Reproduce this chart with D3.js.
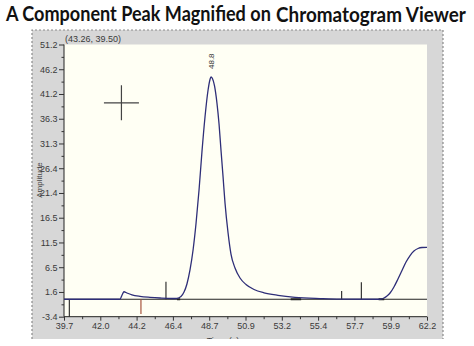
<!DOCTYPE html>
<html>
<head>
<meta charset="utf-8">
<script src="https://cdn.jsdelivr.net/npm/d3@7"></script>
<style>
  html, body { margin: 0; padding: 0; background: #ffffff; }
  svg { display: block; }
</style>
</head>
<body>
<svg id="chart" width="474" height="346"></svg>
<script>
// Chromatogram trace: retention time (s) and detector amplitude
const traceTime = [39.70, 43.17, 43.30, 43.42, 43.60, 43.91, 44.41, 45.03, 45.65, 46.39,
  46.70, 46.95, 47.14, 47.32, 47.51, 47.70, 47.88, 48.07, 48.25, 48.44, 48.63, 48.75,
  48.81, 48.90, 49.03, 49.18, 49.31, 49.43, 49.56, 49.68, 49.87, 50.05, 50.30, 50.61,
  50.98, 51.48, 52.10, 52.96, 54.02, 55.57, 56.81, 59.29, 59.53, 59.72, 59.91, 60.15,
  60.40, 60.65, 60.90, 61.15, 61.39, 61.64, 61.89, 62.20];
const traceAmplitude = [0.10, 0.10, 0.95, 1.60, 1.35, 0.99, 0.69, 0.49, 0.35, 0.25,
  0.29, 0.65, 1.55, 3.16, 5.97, 9.98, 15.19, 22.01, 29.64, 36.66, 42.07, 44.18,
  44.68, 44.38, 42.88, 39.47, 35.25, 30.04, 24.62, 19.41, 13.39, 9.17, 6.37, 4.36,
  3.06, 2.05, 1.39, 0.89, 0.49, 0.23, 0.11, 0.10, 0.35, 0.75, 1.35, 2.56,
  4.16, 5.86, 7.57, 8.87, 9.77, 10.28, 10.48, 10.52];

const baselineLevel = 0.1;

// Event marks on the baseline: time, top and bottom amplitude, colour
const markTime   = [40.03, 44.47, 46.02, 56.91, 58.13];
const markTop    = [0.1, 0.1, 3.62, 1.75, 3.50];
const markBottom = [-3.4, -2.86, 0.1, 0.1, 0.1];
const markColor  = ["#222222", "#a0462d", "#222222", "#222222", "#222222"];

// Integration start/end ticks drawn heavier on the baseline
const integStart = [46.70, 53.75, 59.20];
const integEnd   = [46.90, 54.40, 59.55];

// Peak annotation and cursor readout
const peakLabels = ["48.8"];
const peakLabelTime = [48.81];
const peakLabelAmplitude = [44.68];
const cursorTime = 43.26;
const cursorAmplitude = 39.50;

// Axis tick labels
const xTickLabels = ["39.7", "42.0", "44.2", "46.4", "48.7", "50.9", "53.2", "55.4", "57.7", "59.9", "62.2"];
const yTickLabels = ["-3.4", "1.6", "6.5", "11.5", "16.5", "21.4", "26.4", "31.3", "36.3", "41.2", "46.2", "51.2"];
const xDomain = [39.7, 62.2];
const yDomain = [-3.4, 51.2];

const titleParts = ["A Component Peak Magnified on", "Chromatogram Viewer"];

const svg = d3.select("#chart");

// Title: two runs, each squeezed horizontally to its slot
function titleRun(text, left, baseline, size, width) {
  const t = svg.append("text")
    .attr("font-family", "Lato, 'Open Sans', sans-serif")
    .attr("font-weight", 700).attr("font-size", size)
    .attr("fill", "#111").text(text);
  const natural = t.node().getComputedTextLength();
  t.attr("transform", `translate(${left},${baseline}) scale(${width / natural},1)`);
}
titleRun(titleParts[0], 6, 21, 21, 265);
titleRun(titleParts[1], 276, 22, 20, 190);

// Viewer panel
const panel = { x0: 32, y0: 30, x1: 443, y1: 339 };
svg.append("clipPath").attr("id", "panelClip")
  .append("rect").attr("x", panel.x0).attr("y", panel.y0)
  .attr("width", panel.x1 - panel.x0).attr("height", panel.y1 - panel.y0);

svg.append("rect")
  .attr("x", panel.x0).attr("y", panel.y0)
  .attr("width", panel.x1 - panel.x0).attr("height", panel.y1 - panel.y0)
  .attr("fill", "#d7d7d7");
svg.append("path")
  .attr("d", `M${panel.x0},${panel.y1}V${panel.y0}H${panel.x1}V${panel.y1}`)
  .attr("fill", "none").attr("stroke", "#8a8a8a").attr("stroke-width", 1.2)
  .attr("stroke-dasharray", "2,2");

// Plot area
const plot = { left: 64, top: 44.5, right: 427, bottom: 316.7 };
const x = d3.scaleLinear().domain(xDomain).range([plot.left, plot.right]);
const y = d3.scaleLinear().domain(yDomain).range([plot.bottom, plot.top]);

svg.append("rect")
  .attr("x", plot.left).attr("y", plot.top)
  .attr("width", plot.right - plot.left).attr("height", plot.bottom - plot.top)
  .attr("fill", "#fffff4");

const g = svg.append("g");

// Axes
const xMajor = xTickLabels.map((_, i) => xDomain[0] + i * (xDomain[1] - xDomain[0]) / (xTickLabels.length - 1));
const yMajor = yTickLabels.map((_, i) => yDomain[0] + i * (yDomain[1] - yDomain[0]) / (yTickLabels.length - 1));
const xMinor = xMajor.slice(1).map((v, i) => (v + xMajor[i]) / 2);
const yMinor = yMajor.slice(1).map((v, i) => (v + yMajor[i]) / 2);

const xAxis = g.append("g").attr("transform", `translate(0,${plot.bottom})`)
  .call(d3.axisBottom(x).tickValues(xMajor).tickSize(4).tickPadding(2)
    .tickFormat((d, i) => xTickLabels[i]));
g.append("g").attr("transform", `translate(0,${plot.bottom})`)
  .call(d3.axisBottom(x).tickValues(xMinor).tickSize(2.5).tickFormat(""))
  .call(s => s.select(".domain").remove());

const yAxis = g.append("g").attr("transform", `translate(${plot.left},0)`)
  .call(d3.axisLeft(y).tickValues(yMajor).tickSize(5).tickPadding(1.5)
    .tickFormat((d, i) => yTickLabels[i]));
g.append("g").attr("transform", `translate(${plot.left},0)`)
  .call(d3.axisLeft(y).tickValues(yMinor).tickSize(2.5).tickFormat(""))
  .call(s => s.select(".domain").remove());

g.selectAll(".domain").attr("stroke", "#222").attr("stroke-width", 1);
g.selectAll(".tick line").attr("stroke", "#333");
g.selectAll(".tick text")
  .attr("font-family", "'Liberation Sans', Arial, sans-serif")
  .attr("font-size", 9).attr("fill", "#3a3a3a");
xAxis.selectAll(".domain").attr("d", `M${plot.left},0H${plot.right}`);
yAxis.selectAll(".domain").attr("d", `M0,${plot.bottom}V${plot.top}`);

// Axis titles
svg.append("text")
  .attr("transform", `translate(41.5,180) rotate(-90)`)
  .attr("text-anchor", "middle")
  .attr("font-family", "'Liberation Sans', Arial, sans-serif")
  .attr("font-size", 8).attr("fill", "#444")
  .text("Amplitude");
svg.append("text")
  .attr("x", 223).attr("y", 343.5)
  .attr("text-anchor", "middle")
  .attr("clip-path", "url(#panelClip)")
  .attr("font-family", "'Liberation Sans', Arial, sans-serif")
  .attr("font-size", 9).attr("fill", "#444")
  .text("Time (s)");

// Cursor readout
svg.append("text")
  .attr("x", 65).attr("y", 42)
  .attr("font-family", "'Liberation Sans', Arial, sans-serif")
  .attr("font-size", 9).attr("fill", "#3a3a3a")
  .text(`(${cursorTime.toFixed(2)}, ${cursorAmplitude.toFixed(2)})`);

// Baseline
g.append("line")
  .attr("x1", x(xDomain[0])).attr("x2", x(xDomain[1]))
  .attr("y1", y(baselineLevel)).attr("y2", y(baselineLevel))
  .attr("stroke", "#222").attr("stroke-width", 1.1);

// Heavier integration segments
g.selectAll(".integ").data(integStart).join("line")
  .attr("x1", d => x(d)).attr("x2", (d, i) => x(integEnd[i]))
  .attr("y1", y(baselineLevel)).attr("y2", y(baselineLevel))
  .attr("stroke", "#222").attr("stroke-width", 2);

// Event marks
g.selectAll(".mark").data(markTime).join("line")
  .attr("x1", d => x(d)).attr("x2", d => x(d))
  .attr("y1", (d, i) => y(markTop[i])).attr("y2", (d, i) => y(markBottom[i]))
  .attr("stroke", (d, i) => markColor[i]).attr("stroke-width", 1.1);

// Trace
const tracePoints = traceTime.map((t, i) => [t, traceAmplitude[i]]);
g.append("path")
  .datum(tracePoints)
  .attr("fill", "none")
  .attr("stroke", "#2e2e78").attr("stroke-width", 1.3)
  .attr("d", d3.line().x(d => x(d[0])).y(d => y(d[1])).curve(d3.curveMonotoneX));

// Peak label
g.selectAll(".peakLabel").data(peakLabels).join("text")
  .attr("transform", (d, i) => `translate(${x(peakLabelTime[i]) + 3},${y(peakLabelAmplitude[i]) - 8}) rotate(-90)`)
  .attr("font-family", "'Liberation Sans', Arial, sans-serif")
  .attr("font-size", 8).attr("fill", "#333")
  .text(d => d);

// Cursor crosshair
const cx = x(cursorTime), cy = y(cursorAmplitude);
g.append("path")
  .attr("d", `M${cx - 17.5},${cy}H${cx + 17.5}M${cx},${cy - 17.5}V${cy + 17.5}`)
  .attr("stroke", "#444").attr("stroke-width", 1.2).attr("fill", "none");
</script>
</body>
</html>
